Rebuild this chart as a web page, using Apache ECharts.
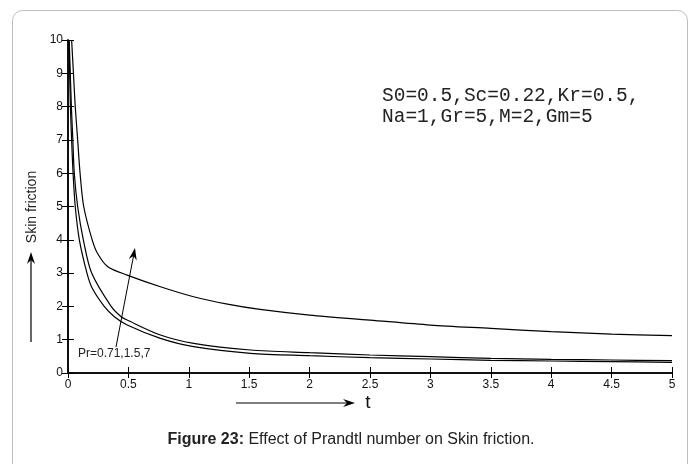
<!DOCTYPE html>
<html>
<head>
<meta charset="utf-8">
<script src="https://cdn.jsdelivr.net/npm/echarts@6/dist/echarts.min.js"></script>
<style>
  html, body { margin: 0; padding: 0; background: #fff; }
  #main { width: 695px; height: 464px; }
</style>
</head>
<body>
<div id="main"></div>
<script>
var chart = echarts.init(document.getElementById('main'));

// values: t and skin friction
var t_pr071 = [0.008, 0.02, 0.03, 0.042, 0.06, 0.094, 0.157, 0.2, 0.3, 0.384, 0.49, 0.765, 1.04, 1.51, 2, 2.5, 3, 3.5, 4, 4.5, 5];
var sf_pr071 = [10, 8, 7, 6, 5, 4, 3, 2.55, 2, 1.69, 1.44, 1.04, 0.79, 0.59, 0.52, 0.46, 0.42, 0.38, 0.36, 0.34, 0.32];

var t_pr15 = [0.01, 0.028, 0.04, 0.052, 0.08, 0.127, 0.196, 0.357, 0.44, 0.49, 0.765, 1.04, 1.51, 2, 2.5, 3, 3.5, 4, 4.5, 5];
var sf_pr15 = [10, 8, 7, 6, 5, 4, 3, 2, 1.69, 1.59, 1.14, 0.89, 0.69, 0.61, 0.54, 0.49, 0.44, 0.41, 0.39, 0.37];

var t_pr7 = [0.03, 0.045, 0.06, 0.08, 0.1, 0.13, 0.2, 0.245, 0.33, 0.49, 0.765, 1.04, 1.32, 1.59, 2, 2.5, 3, 3.5, 4, 4.5, 5];
var sf_pr7 = [10, 9, 8, 7, 6, 5, 4, 3.59, 3.19, 2.94, 2.59, 2.29, 2.07, 1.91, 1.74, 1.59, 1.44, 1.34, 1.24, 1.17, 1.12];

var xTicks = [0, 0.5, 1, 1.5, 2, 2.5, 3, 3.5, 4, 4.5, 5];
var yTicks = [0, 1, 2, 3, 4, 5, 6, 7, 8, 9, 10];

function pairs(xs, ys) {
  var out = [];
  for (var i = 0; i < xs.length; i++) {
    out.push([xs[i], ys[i]]);
  }
  return out;
}

function curve(name, xs, ys) {
  return {
    name: name,
    type: 'line',
    data: pairs(xs, ys),
    symbol: 'none',
    smooth: 0.3,
    clip: true,
    lineStyle: { color: '#000', width: 1.2 }
  };
}

var tickFont = { color: '#111', fontSize: 12, fontFamily: 'Liberation Sans, Arial' };

var option = {
  backgroundColor: '#fff',
  animation: false,
  grid: { left: 68, right: 23, top: 40, bottom: 91 },
  xAxis: [
    {
      type: 'value', min: xTicks[0], max: xTicks[xTicks.length - 1], interval: 0.5,
      axisLine: { lineStyle: { color: '#000', width: 1.5 } },
      axisTick: { inside: true, length: 6, lineStyle: { color: '#000' } },
      axisLabel: Object.assign({ margin: 6 }, tickFont),
      splitLine: { show: false }
    },
    {
      type: 'value', position: 'top', min: xTicks[0], max: xTicks[xTicks.length - 1], interval: 0.5,
      axisLine: { lineStyle: { color: '#000', width: 1.5 } },
      axisTick: { inside: true, length: 5, lineStyle: { color: '#000' } },
      axisLabel: { show: false },
      splitLine: { show: false }
    }
  ],
  yAxis: [
    {
      type: 'value', min: yTicks[0], max: yTicks[yTicks.length - 1], interval: 1,
      axisLine: { show: true, lineStyle: { color: '#000', width: 1.5 } },
      axisTick: { show: true, inside: true, length: 6, lineStyle: { color: '#000' } },
      axisLabel: Object.assign({ margin: 5 }, tickFont),
      splitLine: { show: false }
    },
    {
      type: 'value', position: 'right', min: yTicks[0], max: yTicks[yTicks.length - 1], interval: 1,
      axisLine: { show: true, lineStyle: { color: '#000', width: 1.5 } },
      axisTick: { show: true, inside: true, length: 6, lineStyle: { color: '#000' } },
      axisLabel: { show: false },
      splitLine: { show: false }
    }
  ],
  series: [
    curve('Pr=0.71', t_pr071, sf_pr071),
    curve('Pr=1.5', t_pr15, sf_pr15),
    curve('Pr=7', t_pr7, sf_pr7)
  ],
  graphic: [
    {
      type: 'rect', silent: true, z: -1,
      shape: { x: 12.5, y: 10.5, width: 675, height: 470, r: 10 },
      style: { fill: 'none', stroke: '#bdbdbd', lineWidth: 1 }
    },
    {
      type: 'text', left: 382, top: 85,
      style: {
        text: 'S0=0.5,Sc=0.22,Kr=0.5,\nNa=1,Gr=5,M=2,Gm=5',
        font: '19.5px "Liberation Mono", "Courier New", monospace',
        fill: '#222', lineHeight: 21
      }
    },
    {
      type: 'text', left: 78, top: 348,
      style: { text: 'Pr=0.71,1.5,7', font: '12px "Liberation Sans", Arial', fill: '#222' }
    },
    {
      type: 'line', shape: { x1: 116, y1: 347, x2: 133.5, y2: 256 },
      style: { stroke: '#000', lineWidth: 1 }
    },
    {
      type: 'polygon',
      shape: { points: [[135, 248], [136.7, 260.5], [133.5, 255.9], [128.8, 259.1]] },
      style: { fill: '#000' }
    },
    {
      type: 'text', x: 32, y: 207, rotation: Math.PI / 2,
      style: {
        text: 'Skin friction', font: '14px "Liberation Sans", Arial', fill: '#222',
        align: 'center', verticalAlign: 'middle'
      }
    },
    {
      type: 'line', shape: { x1: 31, y1: 342, x2: 31, y2: 258 },
      style: { stroke: '#000', lineWidth: 1.2 }
    },
    {
      type: 'polygon',
      shape: { points: [[31, 252], [35, 264], [31, 260], [27, 264]] },
      style: { fill: '#000' }
    },
    {
      type: 'line', shape: { x1: 236, y1: 403, x2: 348, y2: 403 },
      style: { stroke: '#000', lineWidth: 1.2 }
    },
    {
      type: 'polygon',
      shape: { points: [[355, 403], [343, 407], [347, 403], [343, 399]] },
      style: { fill: '#000' }
    },
    {
      type: 'text', x: 368, y: 403,
      style: {
        text: 't', font: '19px "Liberation Sans", Arial', fill: '#111',
        align: 'center', verticalAlign: 'middle'
      }
    },
    {
      type: 'text', x: 351, y: 440,
      style: {
        text: '{b|Figure 23:} Effect of Prandtl number on Skin friction.',
        font: '16px "Liberation Sans", Arial', fill: '#222',
        align: 'center', verticalAlign: 'middle',
        rich: {
          b: { fontWeight: 'bold', fontSize: 16, fontFamily: 'Liberation Sans, Arial', fill: '#222' }
        }
      }
    }
  ]
};

chart.setOption(option);
</script>
</body>
</html>
